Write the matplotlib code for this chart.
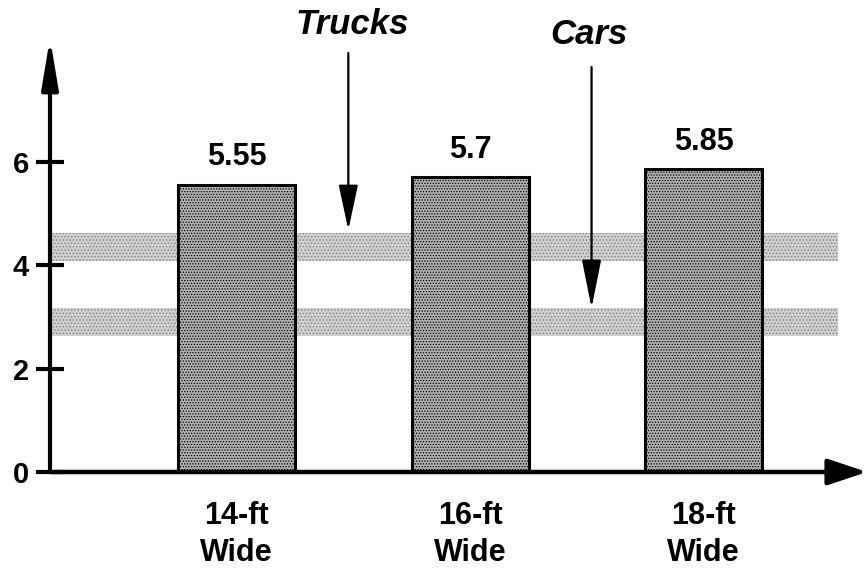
import matplotlib
matplotlib.use("Agg")
import matplotlib.pyplot as plt

# ---- data ----
categories = ["14-ft\nWide", "16-ft\nWide", "18-ft\nWide"]
values = [5.55, 5.7, 5.85]
value_labels = ["5.55", "5.7", "5.85"]
trucks_band = (4.08, 4.62)
cars_band = (2.63, 3.18)
y_ticks = [0, 2, 4, 6]

plt.rcParams['font.family'] = ['Liberation Sans', 'DejaVu Sans']
plt.rcParams['hatch.linewidth'] = 0.6

fig = plt.figure(figsize=(8.67, 5.73), dpi=100)
ax = fig.add_axes([50 / 867, 101 / 573, 1 - 50 / 867, (472 - 38) / 573])
ax.set_xlim(-0.80, 2.70)
ax.set_ylim(0, 8.39)

x = list(range(len(categories)))

# shaded bands
for lo, hi in (trucks_band, cars_band):
    ax.fill_between([-0.80, 2.574], lo, hi, facecolor='#d0d0d0', edgecolor='#808080',
                    hatch='.....', linewidth=0, zorder=1)

# bars
bars = ax.bar(x, values, width=0.50, facecolor='#b0b0b0', edgecolor='black',
              linewidth=2.2, hatch='......', zorder=3)
for b in bars:
    b.set_edgecolor('black')
for xi, v, lab in zip(x, values, value_labels):
    ax.annotate(lab, (xi, v), xytext=(0, 9), textcoords='offset points',
                ha='center', va='bottom', fontsize=22, fontweight='bold', zorder=5)

# axes arrows
for s in ax.spines.values():
    s.set_visible(False)
ax.annotate('', xy=(0, 1), xytext=(0, 0), xycoords='axes fraction',
            arrowprops=dict(arrowstyle='-|>,head_length=3.0,head_width=0.5',
                            mutation_scale=10, lw=3, color='black',
                            shrinkA=0, shrinkB=0), zorder=6)
ax.annotate('', xy=(1, 0), xytext=(0, 0), xycoords='axes fraction',
            arrowprops=dict(arrowstyle='-|>,head_length=2.4,head_width=0.8',
                            mutation_scale=10, lw=3.2, color='black',
                            shrinkA=0, shrinkB=0), zorder=6)

ax.set_yticks(y_ticks)
ax.set_yticklabels([str(t) for t in y_ticks], fontsize=21, fontweight='bold')
ax.tick_params(axis='y', direction='inout', length=20, width=3, pad=5)
ax.set_xticks(x)
ax.set_xticklabels(categories, fontsize=22, fontweight='bold', linespacing=1.3)
ax.tick_params(axis='x', length=0, pad=21)

# Trucks / Cars annotations
ax.annotate('', xy=(0.478, 4.68), xytext=(0.478, 8.1),
            arrowprops=dict(arrowstyle='-|>,head_length=2.8,head_width=0.6',
                            mutation_scale=10, lw=1.6, color='black',
                            shrinkA=0, shrinkB=0), annotation_clip=False, zorder=6)
ax.text(0.495, 8.65, 'Trucks', ha='center', va='center', fontsize=25,
        fontweight='bold', fontstyle='italic', clip_on=False)
ax.annotate('', xy=(1.52, 3.17), xytext=(1.52, 7.83),
            arrowprops=dict(arrowstyle='-|>,head_length=3.0,head_width=0.6',
                            mutation_scale=10, lw=1.6, color='black',
                            shrinkA=0, shrinkB=0), annotation_clip=False, zorder=6)
ax.text(1.507, 8.45, 'Cars', ha='center', va='center', fontsize=25,
        fontweight='bold', fontstyle='italic', clip_on=False)

fig.savefig('out.png', dpi=100)
